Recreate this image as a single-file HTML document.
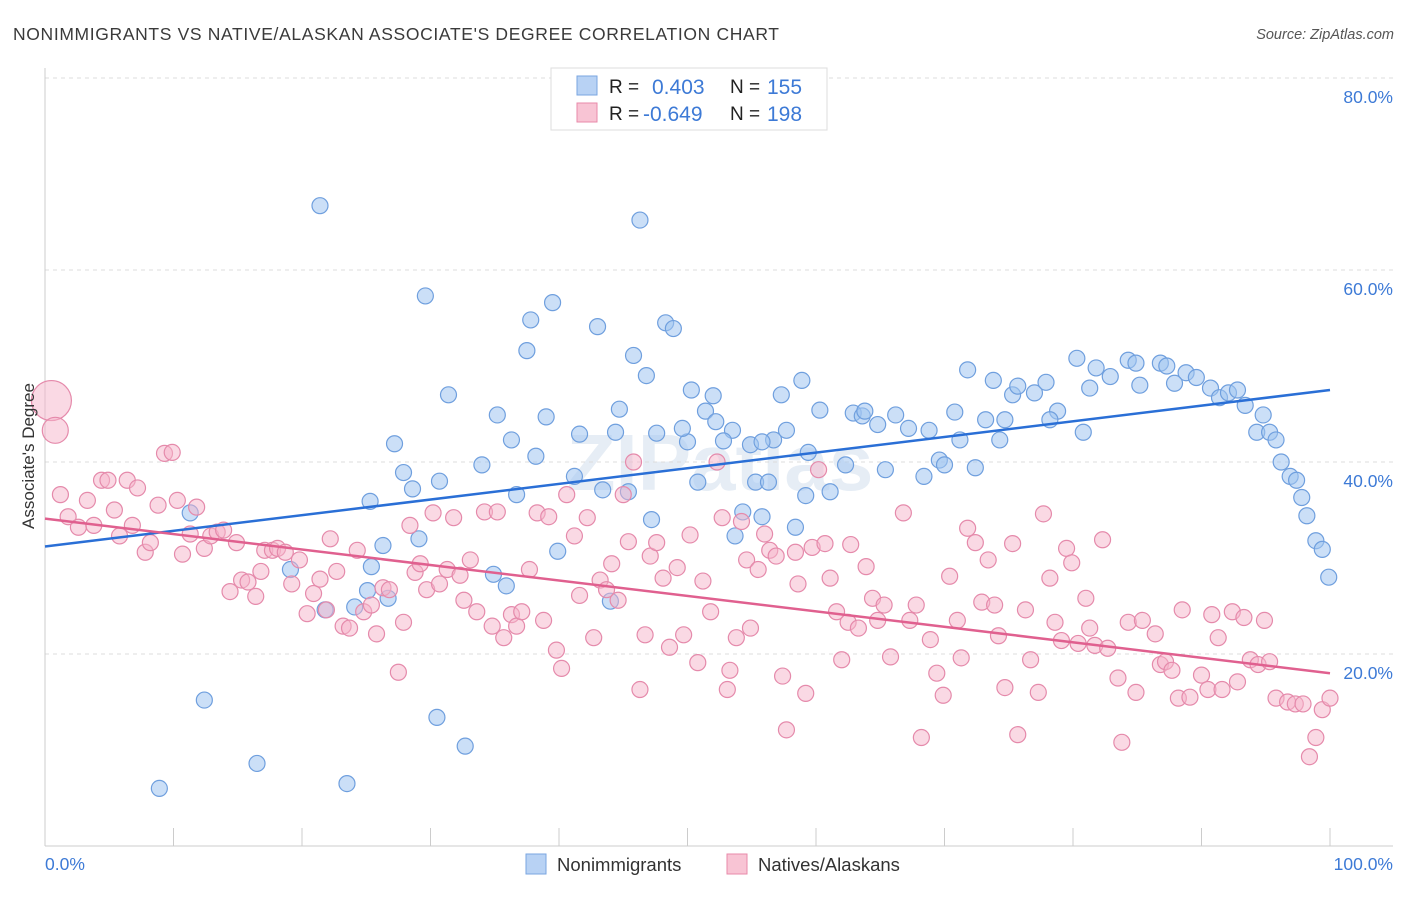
<!DOCTYPE html>
<html><head><meta charset="utf-8"><style>
body{margin:0;background:#fff;font-family:"Liberation Sans",sans-serif;}
svg text{font-family:"Liberation Sans",sans-serif;}
</style></head><body>
<svg id="chart" width="1406" height="892" xmlns="http://www.w3.org/2000/svg">
<text x="13" y="40" font-size="17.5" fill="#3a3a3a" textLength="766" lengthAdjust="spacing">NONIMMIGRANTS VS NATIVE/ALASKAN ASSOCIATE'S DEGREE CORRELATION CHART</text>
<text x="1394" y="39" font-size="14.5" fill="#555" font-style="italic" text-anchor="end">Source: ZipAtlas.com</text>
<text x="720" y="490" font-size="80" fill="#e6edf5" text-anchor="middle" font-weight="bold">ZIPatlas</text>
<g id="grid"></g>
<g id="ticks"></g>
<g id="pts"></g>
<g id="trends"></g>
<text transform="translate(34,456) rotate(-90)" font-size="17" fill="#333" text-anchor="middle">Associate's Degree</text>
<text x="45" y="870" font-size="17.5" fill="#3d7ad6">0.0%</text>
<text x="1393" y="870" font-size="17.5" fill="#3d7ad6" text-anchor="end">100.0%</text>
<g>
<rect x="551" y="68" width="276" height="62" fill="#fff" stroke="#ddd"/>
<rect x="577" y="76" width="20" height="19" fill="#b8d2f4" stroke="#7aa6e0"/>
<rect x="577" y="103" width="20" height="19" fill="#f8c4d4" stroke="#e88aaa"/>
<text x="609" y="93" font-size="19" fill="#222">R = </text><text x="652" y="94" font-size="21" fill="#3d7ad6">0.403</text>
<text x="730" y="93" font-size="19" fill="#222">N = </text><text x="767" y="94" font-size="21" fill="#3d7ad6">155</text>
<text x="609" y="120" font-size="19" fill="#222">R = </text><text x="643" y="121" font-size="21" fill="#3d7ad6">-0.649</text>
<text x="730" y="120" font-size="19" fill="#222">N = </text><text x="767" y="121" font-size="21" fill="#3d7ad6">198</text>
</g>
<g>
<rect x="526" y="854" width="20" height="20" fill="#b8d2f4" stroke="#7aa6e0"/>
<text x="557" y="871" font-size="18.5" fill="#333">Nonimmigrants</text>
<rect x="727" y="854" width="20" height="20" fill="#f8c4d4" stroke="#e88aaa"/>
<text x="758" y="871" font-size="18.5" fill="#333">Natives/Alaskans</text>
</g>
</svg>
<script>
const yTicks=[20,40,60,80];
const yTickLabels=["20.0%","40.0%","60.0%","80.0%"];
const xTicks=[0,10,20,30,40,50,60,70,80,90,100];
const blueX=[21.4,46.3,29.6,39.5,37.8,43.0,48.3,48.9,37.5,45.8,46.8,31.4,35.2,39.0,44.7,50.3,52.0,51.4,53.5,52.2,52.8,54.9,56.7,57.7,57.3,58.9,60.3,62.9,63.6,63.8,64.8,66.2,67.2,68.8,70.8,71.8,73.8,75.3,75.7,77.0,77.9,78.8,80.3,81.8,82.9,84.3,84.9,86.8,87.3,88.8,87.9,89.6,90.7,91.4,92.1,92.8,93.4,94.8,94.3,95.3,95.8,96.2,96.9,97.4,97.8,98.2,98.9,99.4,99.9,85.2,81.3,80.8,78.2,74.7,73.2,74.3,71.2,69.6,72.4,70.0,68.4,65.4,62.3,59.4,55.8,50.0,49.6,47.6,44.4,41.6,36.3,38.2,34.0,30.7,27.9,28.6,27.2,25.3,36.7,41.2,43.4,45.4,50.8,55.3,56.3,59.2,61.1,54.3,55.8,58.4,53.7,47.2,39.9,29.1,26.3,25.4,19.1,11.3,21.8,24.1,25.1,26.7,34.9,35.9,44.0,12.4,16.5,8.9,23.5,30.5,32.7];
const blueY=[66.7,65.2,57.3,56.6,54.8,54.1,54.5,53.9,51.6,51.1,49.0,47.0,44.9,44.7,45.5,47.5,46.9,45.3,43.3,44.2,42.2,41.8,42.3,43.3,47.0,48.5,45.4,45.1,44.8,45.3,43.9,44.9,43.5,43.3,45.2,49.6,48.5,47.0,47.9,47.2,48.3,45.3,50.8,49.8,48.9,50.6,50.3,50.3,50.0,49.3,48.2,48.8,47.7,46.7,47.2,47.5,45.9,44.9,43.1,43.1,42.3,40.0,38.5,38.1,36.3,34.4,31.8,30.9,28.0,48.0,47.7,43.1,44.4,44.4,44.4,42.3,42.3,40.2,39.4,39.7,38.5,39.2,39.7,41.0,42.1,42.1,43.5,43.0,43.1,42.9,42.3,40.6,39.7,38.0,38.9,37.2,41.9,35.9,36.6,38.5,37.1,36.9,37.9,37.9,37.9,36.5,36.9,34.8,34.3,33.2,32.3,34.0,30.7,32.0,31.3,29.1,28.8,34.7,24.6,24.9,26.6,25.8,28.3,27.1,25.5,15.2,8.6,6.0,6.5,13.4,10.4];
const pinkX=[0.5,0.8,1.2,1.8,2.6,3.3,3.8,4.4,4.9,5.4,5.8,6.4,6.8,7.2,7.8,8.2,8.8,9.3,9.9,10.3,10.7,11.3,11.8,12.4,12.9,13.4,13.9,14.4,14.9,15.3,15.8,16.4,16.8,17.1,17.7,18.1,18.7,19.2,19.8,20.4,20.9,21.4,21.9,22.2,22.7,23.2,23.7,24.3,24.8,25.4,25.8,26.3,26.8,27.9,27.5,28.4,28.8,29.2,29.7,30.2,30.7,31.3,31.8,32.3,32.6,33.1,33.6,34.2,34.8,35.2,35.7,36.3,36.7,37.1,37.7,38.3,38.8,39.2,39.8,40.2,40.6,41.2,41.6,42.2,42.7,43.2,43.7,44.1,44.6,45.0,45.4,45.8,46.3,46.7,47.1,47.6,48.1,48.6,49.2,49.7,50.2,50.8,51.2,51.8,52.3,52.7,53.1,53.3,53.8,54.2,54.6,54.9,55.5,56.0,56.4,56.9,57.4,57.7,58.4,58.6,59.2,59.7,60.2,60.7,61.1,61.6,62.0,62.5,62.7,63.3,63.9,64.4,64.8,65.3,65.8,66.8,67.3,67.8,68.2,68.9,69.4,69.9,70.4,71.0,71.3,71.8,72.4,72.9,73.4,73.9,74.2,74.7,75.3,75.7,76.3,76.7,77.3,77.7,78.2,78.6,79.1,79.5,79.9,80.4,81.0,81.3,81.7,82.3,82.7,83.5,83.8,84.3,84.9,85.4,86.4,86.8,87.2,87.7,88.2,88.5,89.1,90.0,90.5,90.8,91.3,91.6,92.4,92.8,93.3,93.8,94.4,94.9,95.3,95.8,96.7,97.3,97.9,98.4,98.9,99.4,100];
const pinkY=[46.4,43.3,36.6,34.3,33.2,36.0,33.4,38.1,38.1,35.0,32.3,38.1,33.4,37.3,30.6,31.6,35.5,40.9,41.0,36.0,30.4,32.5,35.3,31.0,32.3,32.7,32.9,26.5,31.6,27.7,27.5,26.0,28.6,30.8,30.8,31.0,30.6,27.3,29.8,24.2,26.3,27.8,24.6,32.0,28.6,22.9,22.7,30.8,24.4,25.1,22.1,26.9,26.7,23.3,18.1,33.4,28.5,29.4,26.7,34.7,27.3,28.8,34.2,28.2,25.6,29.8,24.4,34.8,22.9,34.8,21.7,24.1,22.9,24.4,28.8,34.7,23.5,34.3,20.4,18.5,36.6,32.3,26.1,34.2,21.7,27.7,26.7,29.4,25.6,36.6,31.7,40.0,16.3,22.0,30.2,31.6,27.9,20.7,29.0,22.0,32.4,19.1,27.6,24.4,40.0,34.2,16.3,18.3,21.7,33.8,29.8,22.7,28.8,32.5,30.8,30.2,17.7,12.1,30.6,27.3,15.9,31.1,39.2,31.5,27.9,24.4,19.4,23.3,31.4,22.7,29.1,25.8,23.5,25.1,19.7,34.7,23.5,25.1,11.3,21.5,18.0,15.7,28.1,23.5,19.6,33.1,31.6,25.4,29.8,25.1,21.9,16.5,31.5,11.6,24.6,19.4,16.0,34.6,27.9,23.3,21.4,31.0,29.5,21.1,25.8,22.7,20.9,31.9,20.6,17.5,10.8,23.3,16.0,23.5,22.1,18.9,19.2,18.3,15.4,24.6,15.5,17.8,16.3,24.1,21.7,16.3,24.4,17.1,23.8,19.4,18.9,23.5,19.2,15.4,15.0,14.8,14.8,9.3,11.3,14.2,15.4];
const pinkR=[20,13];
const blueTrend=[31.2,47.5];
const pinkTrend=[34.1,18.0];
const NS="http://www.w3.org/2000/svg";
const X0=45,X1=1330,YB=846,YPX=9.6;
const sx=v=>X0+(v/100)*(X1-X0);
const sy=v=>YB-v*YPX;
function mk(tag,attrs,parent){const e=document.createElementNS(NS,tag);for(const k in attrs)e.setAttribute(k,attrs[k]);parent.appendChild(e);return e;}
const grid=document.getElementById('grid');
yTicks.forEach((t,i)=>{
  const l=mk('line',{x1:45,x2:1393,y1:sy(t),y2:sy(t),stroke:'#dcdcdc','stroke-dasharray':'4,4'},grid);
  
  
  const tx=mk('text',{x:1393,y:sy(t)+25,'font-size':17.5,fill:'#3d7ad6','text-anchor':'end'},grid);
  tx.textContent=yTickLabels[i];
  
  
});
const ax=mk('line',{x1:45,x2:45,y1:68,y2:846,stroke:'#ccc'},grid);


const bx=mk('line',{x1:45,x2:1393,y1:846,y2:846,stroke:'#ccc'},grid);


const ticks=document.getElementById('ticks');
xTicks.forEach(t=>{
  const l=mk('line',{x1:sx(t),x2:sx(t),y1:828,y2:846,stroke:'#ccc'},ticks);
  
  
});
const pts=document.getElementById('pts');
blueX.forEach((x,i)=>{
  const c=mk('circle',{cx:sx(x),cy:sy(blueY[i]),r:8,fill:'rgba(160,196,240,0.55)',stroke:'#6f9fde','stroke-width':1.2},pts);
  
  
});
pinkX.forEach((x,i)=>{
  const c=mk('circle',{cx:sx(x),cy:sy(pinkY[i]),r:pinkR[i]||8,fill:'rgba(245,180,202,0.5)',stroke:'#e58aab','stroke-width':1.2},pts);
  
  
});
const tr=document.getElementById('trends');
const b=mk('line',{x1:sx(0),y1:sy(blueTrend[0]),x2:sx(100),y2:sy(blueTrend[1]),stroke:'#2a6fd6','stroke-width':2.5},tr);


const p=mk('line',{x1:sx(0),y1:sy(pinkTrend[0]),x2:sx(100),y2:sy(pinkTrend[1]),stroke:'#e0608f','stroke-width':2.5},tr);


</script>
</body></html>
